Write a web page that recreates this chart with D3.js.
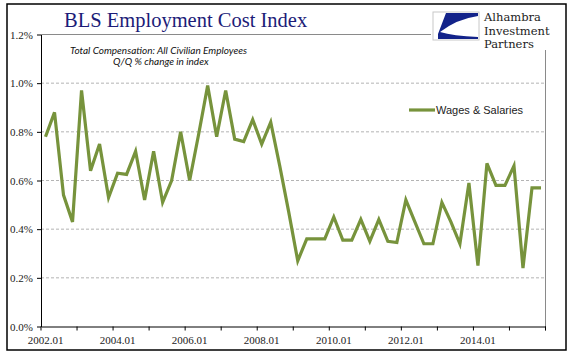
<!DOCTYPE html>
<html>
<head>
<meta charset="utf-8">
<script src="https://cdn.jsdelivr.net/npm/d3@7"></script>
<style>
  body { margin: 0; background: #fff; }
  svg { display: block; }
</style>
</head>
<body>
<script>
// Quarters 2002.01 .. 2015.04
const years = d3.range(2002, 2016);
const quarters = years.flatMap(y => ['01', '02', '03', '04'].map(q => `${y}.${q}`));

// Wages & Salaries, Q/Q % change
const wages = [
  0.78, 0.88, 0.54, 0.43, 0.97, 0.64, 0.75, 0.53, 0.63, 0.625,
  0.72, 0.52, 0.72, 0.51, 0.60, 0.80, 0.60, 0.79, 0.99, 0.78,
  0.97, 0.77, 0.76, 0.85, 0.75, 0.84, 0.66, 0.47, 0.27, 0.36,
  0.36, 0.36, 0.45, 0.355, 0.355, 0.44, 0.35, 0.44, 0.35, 0.345,
  0.52, 0.43, 0.34, 0.34, 0.51, 0.43, 0.34, 0.59, 0.25, 0.67,
  0.58, 0.58, 0.66, 0.24, 0.57, 0.57
];

const xLabels = ['2002.01', '2004.01', '2006.01', '2008.01', '2010.01', '2012.01', '2014.01'];
const yTicks = [0, 0.2, 0.4, 0.6, 0.8, 1.0, 1.2];

const W = 577, H = 361;
const plot = { left: 41, right: 545.5, top: 34.5, bottom: 326.5 };

const svg = d3.select('body').append('svg')
  .attr('width', W)
  .attr('height', H);

svg.append('rect')
  .attr('x', 7).attr('y', 4)
  .attr('width', 559).attr('height', 346)
  .attr('fill', '#fff')
  .attr('stroke', '#000')
  .attr('stroke-width', 1.5);

const x = d3.scaleBand()
  .domain(quarters)
  .range([plot.left, plot.right]);

const y = d3.scaleLinear()
  .domain([0, 1.2])
  .range([plot.bottom, plot.top]);

// gridlines
svg.append('g')
  .selectAll('line')
  .data(yTicks.filter(d => d > 0 && d < 1.2))
  .join('line')
  .attr('x1', plot.left).attr('x2', plot.right)
  .attr('y1', d => y(d)).attr('y2', d => y(d))
  .attr('stroke', '#b4b4b4')
  .attr('stroke-dasharray', '3,2')
  .attr('stroke-width', 1);

// plot border top / right (gray)
svg.append('line')
  .attr('x1', plot.left).attr('x2', 431)
  .attr('y1', y(1.2)).attr('y2', y(1.2))
  .attr('stroke', '#8a8a8a');
svg.append('line')
  .attr('x1', plot.right).attr('x2', plot.right)
  .attr('y1', 50).attr('y2', plot.bottom + 4)
  .attr('stroke', '#8a8a8a');

// y axis
const yAxis = svg.append('g')
  .attr('transform', `translate(${plot.left},0)`)
  .call(d3.axisLeft(y).tickValues(yTicks).tickFormat(d => d.toFixed(1) + '%').tickSize(4).tickSizeOuter(0));
yAxis.select('.domain').attr('stroke', '#000');
yAxis.selectAll('.tick line').attr('stroke', '#000');
yAxis.selectAll('text')
  .attr('x', -8)
  .attr('fill', '#222')
  .style('font-family', '"Liberation Serif", "Times New Roman", serif')
  .style('font-size', '11px');

// x axis
const xAxis = svg.append('g')
  .attr('transform', `translate(0,${plot.bottom})`)
  .call(d3.axisBottom(x).tickValues(xLabels).tickSize(0).tickSizeOuter(0));
xAxis.select('.domain').attr('stroke', '#000');
xAxis.selectAll('text')
  .attr('y', 10)
  .attr('fill', '#222')
  .style('font-family', '"Liberation Serif", "Times New Roman", serif')
  .style('font-size', '11px');
xAxis.selectAll('.tick-mark')
  .data(quarters.filter((q, i) => i % 4 === 0).map(q => x(q)).concat([plot.right]))
  .join('line')
  .attr('class', 'tick-mark')
  .attr('x1', d => d).attr('x2', d => d)
  .attr('y1', 0).attr('y2', 4)
  .attr('stroke', '#000');

// the series line
const line = d3.line()
  .x((d, i) => x(quarters[i]) + x.bandwidth() / 2)
  .y(d => y(d));

svg.append('path')
  .datum(wages)
  .attr('d', line)
  .attr('fill', 'none')
  .attr('stroke', '#77933c')
  .attr('stroke-width', 3.2)
  .attr('stroke-linejoin', 'miter');

// title
svg.append('text')
  .attr('x', 64).attr('y', 27)
  .attr('fill', '#1c1c78')
  .style('font-family', '"Liberation Serif", "Times New Roman", serif')
  .style('font-size', '20.5px')
  .text('BLS Employment Cost Index');

// subtitle
svg.append('text')
  .attr('x', 70).attr('y', 54)
  .attr('fill', '#111')
  .style('font-family', 'Lato, "Open Sans", sans-serif')
  .style('font-style', 'italic')
  .style('font-size', '10px')
  .text('Total Compensation: All Civilian Employees');
svg.append('text')
  .attr('x', 113).attr('y', 65)
  .attr('fill', '#111')
  .style('font-family', 'Lato, "Open Sans", sans-serif')
  .style('font-style', 'italic')
  .style('font-size', '10px')
  .text('Q/Q % change in index');

// legend
svg.append('line')
  .attr('x1', 409).attr('x2', 435)
  .attr('y1', 110).attr('y2', 110)
  .attr('stroke', '#77933c')
  .attr('stroke-width', 3.2);
svg.append('text')
  .attr('x', 436).attr('y', 114)
  .attr('fill', '#222')
  .style('font-family', '"Liberation Sans", Arial, sans-serif')
  .style('font-size', '11px')
  .text('Wages & Salaries');

// logo
const logo = svg.append('g').attr('transform', 'translate(433,12)');
logo.append('rect')
  .attr('width', 46).attr('height', 28)
  .attr('fill', '#fff')
  .attr('stroke', '#c8c8c8');
logo.append('path')
  .attr('d', 'M13,1 L45,1 L45,4 Q24,7 7,20 Q20,24 45,25 L45,27 L5,27 L5,22 Z')
  .attr('fill', '#13238a');
const logoText = ['Alhambra', 'Investment', 'Partners'];
svg.append('g')
  .selectAll('text')
  .data(logoText)
  .join('text')
  .attr('x', 484)
  .attr('y', (d, i) => 21 + i * 13.5)
  .attr('fill', '#222')
  .style('font-family', '"DejaVu Serif", serif')
  .style('font-size', '11.5px')
  .text(d => d);
</script>
</body>
</html>
